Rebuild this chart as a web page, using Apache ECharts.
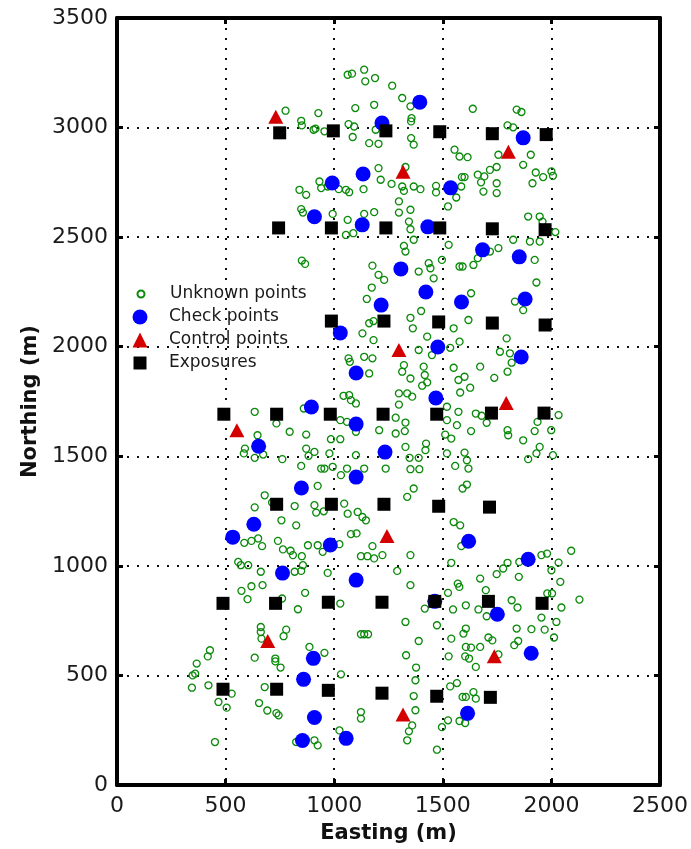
<!DOCTYPE html>
<html>
<head>
<meta charset="utf-8">
<script src="https://cdn.jsdelivr.net/npm/echarts@6/dist/echarts.min.js"></script>
<style>
html, body { margin: 0; padding: 0; background: #fff; }
#main { width: 691px; height: 849px; }
</style>
</head>
<body>
<div id="main"></div>
<script>
// easting / northing pairs, metres
var unknownPoints = [
  [1062,3241],[1082,3246],[1138,3264],[1143,3211],[1188,3226],[1184,3104],[1097,3089],[927,3066],[776,3077],[848,3031],
  [851,3010],[914,2995],[905,2990],[955,2983],[1066,3016],[1092,3005],[1085,2957],[1161,2929],[1204,2926],[1191,2990],
  [1204,2815],[1214,2762],[932,2754],[940,2724],[970,2731],[1021,2719],[1054,2716],[1069,2705],[1135,2719],[840,2716],
  [871,2693],[848,2628],[856,2612],[993,2606],[1138,2606],[1184,2614],[1062,2579],[1054,2510],[1088,2518],[851,2393],
  [866,2378],[1176,2370],[1204,2328],[1230,2305],[1173,2270],
  [1267,3191],[1313,3135],[1351,3097],[1356,3043],[1354,3028],[1638,3086],[1840,3082],[1862,3071],[1798,3010],[1824,3001],
  [1354,2952],[1366,2922],[1554,2899],[1577,2868],[1614,2865],[1756,2876],[1905,2876],[1870,2830],[1328,2820],[1264,2743],
  [1313,2731],[1321,2711],[1366,2731],[1397,2719],[1469,2734],[1469,2704],[1588,2774],[1600,2774],[1585,2731],[1562,2681],
  [1524,2640],[1661,2785],[1691,2777],[1717,2807],[1748,2820],[1676,2750],[1687,2708],[1748,2746],[1748,2701],[1928,2795],
  [1962,2774],[2000,2800],[2007,2780],[1913,2746],[1298,2663],[1351,2625],[1298,2612],[1344,2571],[1351,2536],[1321,2460],
  [1328,2434],[1366,2488],[1527,2465],[1496,2396],[1435,2381],[1443,2358],[1389,2343],[1458,2312],[1577,2366],[1591,2366],
  [1641,2373],[1717,2434],[1756,2450],[1661,2404],[1824,2488],[1893,2594],[1946,2594],[1959,2571],[1901,2480],[1946,2480],
  [2018,2523],[1923,2396],[1931,2293],[1630,2244],
  [1150,2218],[1181,2117],[1161,2107],[1130,2061],[1181,2030],[1066,1947],[1072,1931],[1138,1954],[1176,1947],[1161,1878],
  [1043,1776],[1069,1779],[1077,1756],[1100,1741],[1028,1665],[1059,1657],[1100,1612],[1207,1619],[860,1718],[634,1703],
  [734,1650],[795,1612],[871,1599],[985,1578],[1028,1578],[647,1596],[589,1535],[584,1513],[634,1493],[673,1508],
  [761,1487],[871,1535],[882,1502],[909,1520],[978,1513],[940,1444],[955,1444],[848,1456],[993,1452],[1059,1444],
  [1100,1505],[1138,1444],[1031,1414],[1237,1444],[924,1365],[680,1322],[634,1267],[714,1289],[818,1273],[909,1277],
  [917,1243],[952,1249],[1046,1284],[1062,1238],[1108,1246],[1130,1223],[1146,1208],[757,1208],[825,1185],
  [1351,2132],[1400,2163],[1362,2084],[1428,2046],[1550,2084],[1618,2122],[1577,2023],[1534,1995],[1450,1962],[1389,1985],
  [1321,1916],[1313,1886],[1351,1855],[1412,1909],[1417,1871],[1428,1837],[1405,1822],[1298,1787],[1336,1787],[1359,1772],
  [1298,1736],[1550,1904],[1572,1848],[1600,1863],[1626,1813],[1580,1791],[1672,1909],[1737,1858],[1763,1977],[1794,2038],
  [1809,1970],[1798,1886],[1817,1927],[1832,2206],[1870,2167],[1519,1726],[1519,1665],[1572,1703],[1565,1642],[1652,1695],
  [1679,1685],[1702,1653],[1630,1615],[1511,1599],[1539,1581],[1283,1676],[1328,1654],[1283,1604],[1325,1615],[1328,1543],
  [1347,1493],[1389,1493],[1423,1558],[1420,1528],[1351,1441],[1392,1441],[1366,1353],[1336,1315],[1519,1513],[1557,1456],
  [1600,1517],[1611,1482],[1618,1444],[1611,1371],[1591,1353],[1798,1619],[1801,1596],[1870,1573],[1923,1615],[1936,1657],
  [1946,1543],[1931,1513],[1893,1487],[1999,1619],[2007,1505],[2033,1688],[1550,1200],[1580,1185],
  [586,1105],[619,1114],[650,1125],[668,1090],[741,1114],[764,1075],[799,1069],[810,1049],[851,1044],[879,1094],
  [924,1094],[947,1064],[1024,1099],[1077,1145],[1103,1148],[1123,1044],[1153,1044],[1184,1034],[1222,1049],[1176,1090],
  [558,1018],[570,1003],[604,1003],[662,973],[818,973],[856,1003],[848,977],[970,968],[573,886],[619,907],
  [670,912],[601,848],[760,851],[833,802],[866,877],[1028,828],[662,721],[662,698],[665,668],[779,709],
  [767,679],[886,630],[955,603],[634,581],[729,577],[729,564],[753,536],[428,615],[418,587],[367,554],
  [360,508],[348,500],[345,444],[421,455],[467,379],[505,353],[528,417],[680,447],[654,374],[692,340],
  [734,328],[744,318],[1031,505],[1123,333],[1123,303],[1024,249],[451,196],[825,196],[924,181],[909,204],
  [1123,688],[1138,688],[1156,688],
  [1351,1049],[1290,977],[1351,912],[1539,1014],[1585,1090],[1569,919],[1576,904],[1524,877],[1672,942],[1748,962],
  [1778,988],[1798,1014],[1852,1018],[1850,950],[1954,1049],[1980,1056],[2000,980],[2033,1015],[2041,927],[2091,1069],
  [1698,889],[1664,801],[1702,770],[1606,820],[1547,801],[1417,805],[1328,744],[1473,729],[1389,657],[1539,668],
  [1606,714],[1595,691],[1710,673],[1728,660],[1672,630],[1606,630],[1630,627],[1603,587],[1621,577],[1527,587],
  [1652,539],[1756,596],[1331,592],[1377,536],[1817,843],[1844,810],[1840,714],[1908,711],[1829,638],[1847,657],
  [1969,709],[2012,673],[1954,764],[2023,744],[2046,810],[2003,874],[1981,874],[2129,846],[1374,478],[1366,406],
  [1374,341],[1359,272],[1344,245],[1336,204],[1534,450],[1565,465],[1496,264],[1524,295],[1473,161],[1591,402],
  [1606,402],[1641,424],[1652,394],[1577,292],[1603,283]
];
var checkPoints = [
  [1220,3021],[1394,3116],[1133,2788],[991,2747],[909,2593],[1129,2556],[1536,2725],[1870,2953],[1431,2547],[1683,2442],
  [1852,2410],[1307,2355],[1422,2250],[1586,2204],[1879,2218],[1216,2190],[1028,2063],[1477,1999],[1861,1953],[1101,1880],
  [895,1725],[1468,1766],[1101,1647],[652,1546],[1234,1519],[1101,1405],[849,1355],[630,1190],[533,1131],[982,1095],
  [1619,1112],[762,967],[1101,935],[1893,1030],[1463,838],[1751,779],[904,578],[1907,601],[859,482],[909,308],
  [1614,327],[854,203],[1055,213]
];
var controlPoints = [
  [731,3049],[1317,2798],[1802,2890],[1298,1985],[1792,1743],[552,1619],[1243,1136],[694,657],[1737,587],[1317,322]
];
var exposures = [
  [749,2976],[996,2985],[1238,2985],[1486,2981],[1728,2972],[1976,2968],
  [744,2542],[987,2542],[1238,2542],[1486,2542],[1728,2538],[1971,2534],
  [987,2117],[1229,2117],[1481,2113],[1728,2108],[1971,2099],
  [492,1692],[735,1692],[982,1692],[1225,1692],[1472,1692],[1724,1697],[1966,1697],
  [735,1281],[987,1281],[1229,1281],[1481,1272],[1715,1268],
  [488,829],[730,829],[973,834],[1220,834],[1463,838],[1710,838],[1957,829],
  [488,437],[735,437],[973,432],[1220,419],[1472,405],[1719,400]
];
var seriesNames = ['Unknown points', 'Check points', 'Control points', 'Exposures'];

var font = 'DejaVu Sans';
var chart = echarts.init(document.getElementById('main'));

function axis(dim, pos, max, main) {
  var a = {
    type: 'value', position: pos, min: 0, max: max, interval: 500,
    axisLine: {show: true, onZero: false, lineStyle: {color: '#000', width: 4}},
    axisTick: {show: true, inside: true, length: 6, lineStyle: {color: '#000', width: 3}},
    axisLabel: {show: main, fontFamily: font, fontSize: 22, color: '#1a1a1a', margin: dim == 'x' ? 10 : 9,
                formatter: function (v) { return String(v); }},
    splitLine: {show: main, lineStyle: {color: '#111', width: 2, type: [2, 8]}}
  };
  if (main) {
    a.name = dim == 'x' ? 'Easting (m)' : 'Northing (m)';
    a.nameLocation = 'middle';
    a.nameGap = dim == 'x' ? 38 : 76;
    a.nameTextStyle = {fontFamily: font, fontSize: 21, fontWeight: 'bold', color: '#111'};
  }
  return a;
}

// one legend per series so each icon keeps its own size; text starts at x=169
function legendItem(name, top, size) {
  return {
    data: [name], orient: 'vertical', left: 140 - size / 2, top: top, padding: 0,
    itemWidth: size, itemHeight: size, selectedMode: false,
    textStyle: {fontFamily: font, fontSize: 17, color: '#1a1a1a', lineHeight: 20,
                padding: [0, 0, 0, 169 - (140 + size / 2) - 5]}
  };
}

chart.setOption({
  animation: false,
  backgroundColor: '#fff',
  grid: {left: 117, right: 29, top: 18, bottom: 64},
  xAxis: [axis('x', 'bottom', 2500, true), axis('x', 'top', 2500, false)],
  yAxis: [axis('y', 'left', 3500, true), axis('y', 'right', 3500, false)],
  legend: [
    legendItem(seriesNames[0], 284, 7),
    legendItem(seriesNames[1], 307, 15),
    legendItem(seriesNames[2], 330, 15),
    legendItem(seriesNames[3], 353, 13)
  ],
  series: [
    {name: seriesNames[0], type: 'scatter', data: unknownPoints, symbol: 'circle', symbolSize: 7,
     itemStyle: {color: 'rgba(255,255,255,0)', borderColor: '#0a8a0a', borderWidth: 1.3, opacity: 1}},
    {name: seriesNames[1], type: 'scatter', data: checkPoints, symbol: 'circle', symbolSize: 15,
     itemStyle: {color: '#0000ff', opacity: 1}},
    {name: seriesNames[2], type: 'scatter', data: controlPoints, symbol: 'triangle', symbolSize: [15, 14],
     itemStyle: {color: '#d40000', opacity: 1}},
    {name: seriesNames[3], type: 'scatter', data: exposures, symbol: 'rect', symbolSize: 13,
     itemStyle: {color: '#000', opacity: 1}}
  ]
});
</script>
</body>
</html>
